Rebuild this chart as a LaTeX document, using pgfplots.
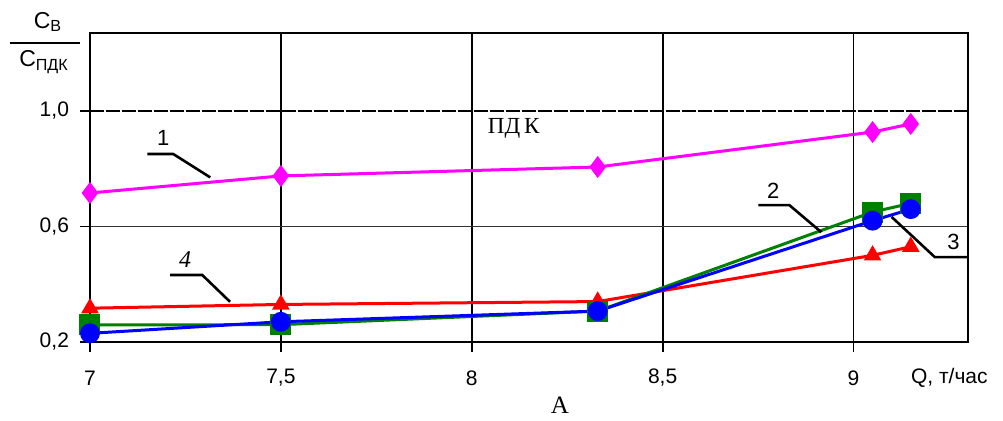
\documentclass[border=0pt]{standalone}
\usepackage{fontspec}
\setmainfont{Liberation Sans}
\newfontfamily\seriffont{Liberation Serif}
\usepackage{pgfplots}
\pgfplotsset{compat=1.18}

\definecolor{cMag}{RGB}{255,0,255}
\definecolor{cGreen}{RGB}{0,128,0}
\definecolor{cBlue}{RGB}{0,0,255}
\definecolor{cRed}{RGB}{255,0,0}

% Q, t/h  vs  C_v / C_pdk
\pgfplotstableread{
x     y
7.00  0.716
7.50  0.775
8.33  0.806
9.05  0.927
9.15  0.955
}\curveA
\pgfplotstableread{
x     y
7.00  0.259
7.50  0.260
8.33  0.307
9.05  0.650
9.15  0.680
}\curveB
\pgfplotstableread{
x     y
7.00  0.230
7.50  0.270
8.33  0.307
9.05  0.620
9.15  0.660
}\curveC
\pgfplotstableread{
x     y
7.00  0.317
7.50  0.330
8.33  0.340
9.05  0.500
9.15  0.530
}\curveD

\begin{document}
\begin{tikzpicture}
\path[use as bounding box] (-45pt,-39.5pt) rectangle (456.5pt,171pt);
\begin{axis}[
  at={(0,0)}, anchor=south west,
  scale only axis,
  width=439pt, height=154.5pt,
  xmin=7, xmax=9.3,
  ymin=0.2, ymax=1.27,
  xtick={7,7.5,8,8.5,9},
  ytick={0.2,0.6},
  extra y ticks={1.0},
  extra y tick style={grid=none},
  xtick pos=left, ytick pos=left,
  tick align=outside,
  major tick length=5pt,
  tick style={black, line width=0.9pt},
  axis line style={black, line width=1pt},
  xmajorgrids, ymajorgrids,
  x grid style={black, line width=0.9pt},
  y grid style={black!80, line width=0.6pt},
  /pgf/number format/assume math mode=true,
  /pgf/number format/use comma,
  xticklabel style={font=\fontsize{10.5}{11}\selectfont, anchor=center, yshift=-13pt},
  yticklabel style={font=\fontsize{10.5}{11}\selectfont, anchor=east, xshift=-2pt,
    /pgf/number format/fixed, /pgf/number format/precision=1,
    /pgf/number format/fixed zerofill},
  every axis plot/.append style={line width=1.5pt},
]
% PDK level
\addplot[black, line width=1.1pt, dash pattern=on 7pt off 1pt] coordinates {(7,1) (9.3,1)};

\addplot[cRed, mark=triangle*, mark size=3.6pt, mark options={solid}] table {\curveD};
\addplot[cGreen, mark=square*, mark size=4.5pt, mark options={solid}] table {\curveB};
\addplot[cBlue, mark=*, mark size=4.2pt, mark options={solid}] table {\curveC};
\addplot[cMag, mark=diamond*, mark size=4.3pt, mark options={solid}] table {\curveA};

% leader lines and curve numbers
\draw[black, line width=1.3pt] (axis cs:7.150,0.851) -- (axis cs:7.218,0.851) -- (axis cs:7.315,0.770);
\node[font=\fontsize{11}{11}\selectfont] at (axis cs:7.192,0.905) {1};
\draw[black, line width=1.3pt] (axis cs:7.210,0.432) -- (axis cs:7.294,0.432) -- (axis cs:7.367,0.339);
\node[font=\seriffont\itshape\fontsize{12}{12}\selectfont] at (axis cs:7.249,0.487) {4};
\draw[black, line width=1.3pt] (axis cs:8.751,0.674) -- (axis cs:8.832,0.674) -- (axis cs:8.916,0.580);
\node[font=\fontsize{11}{11}\selectfont] at (axis cs:8.790,0.722) {2};
\draw[black, line width=1.3pt] (axis cs:9.100,0.633) -- (axis cs:9.213,0.494) -- (axis cs:9.297,0.494);
\node[font=\fontsize{11}{11}\selectfont] at (axis cs:9.262,0.548) {3};
\node[font=\seriffont\fontsize{11.5}{11.5}\selectfont] at (axis cs:8.11,0.941) {ПД\,К};
\end{axis}
% axis titles (1 px of the reference = 0.5pt)
\node[font=\fontsize{11.5}{12}\selectfont] at (-21pt,160pt) {C\textsubscript{В}};
\draw[black, line width=0.8pt] (-40pt,149.5pt) -- (-5pt,149.5pt);
\node[font=\fontsize{11.5}{12}\selectfont] at (-23pt,140pt) {C\textsubscript{ПДК}};
\node[font=\fontsize{10.5}{11}\selectfont, anchor=west] at (407pt,-18pt) {Q, т/час};
\node[font=\seriffont\fontsize{12.5}{12.5}\selectfont] at (235pt,-31.5pt) {А};
\end{tikzpicture}
\end{document}
